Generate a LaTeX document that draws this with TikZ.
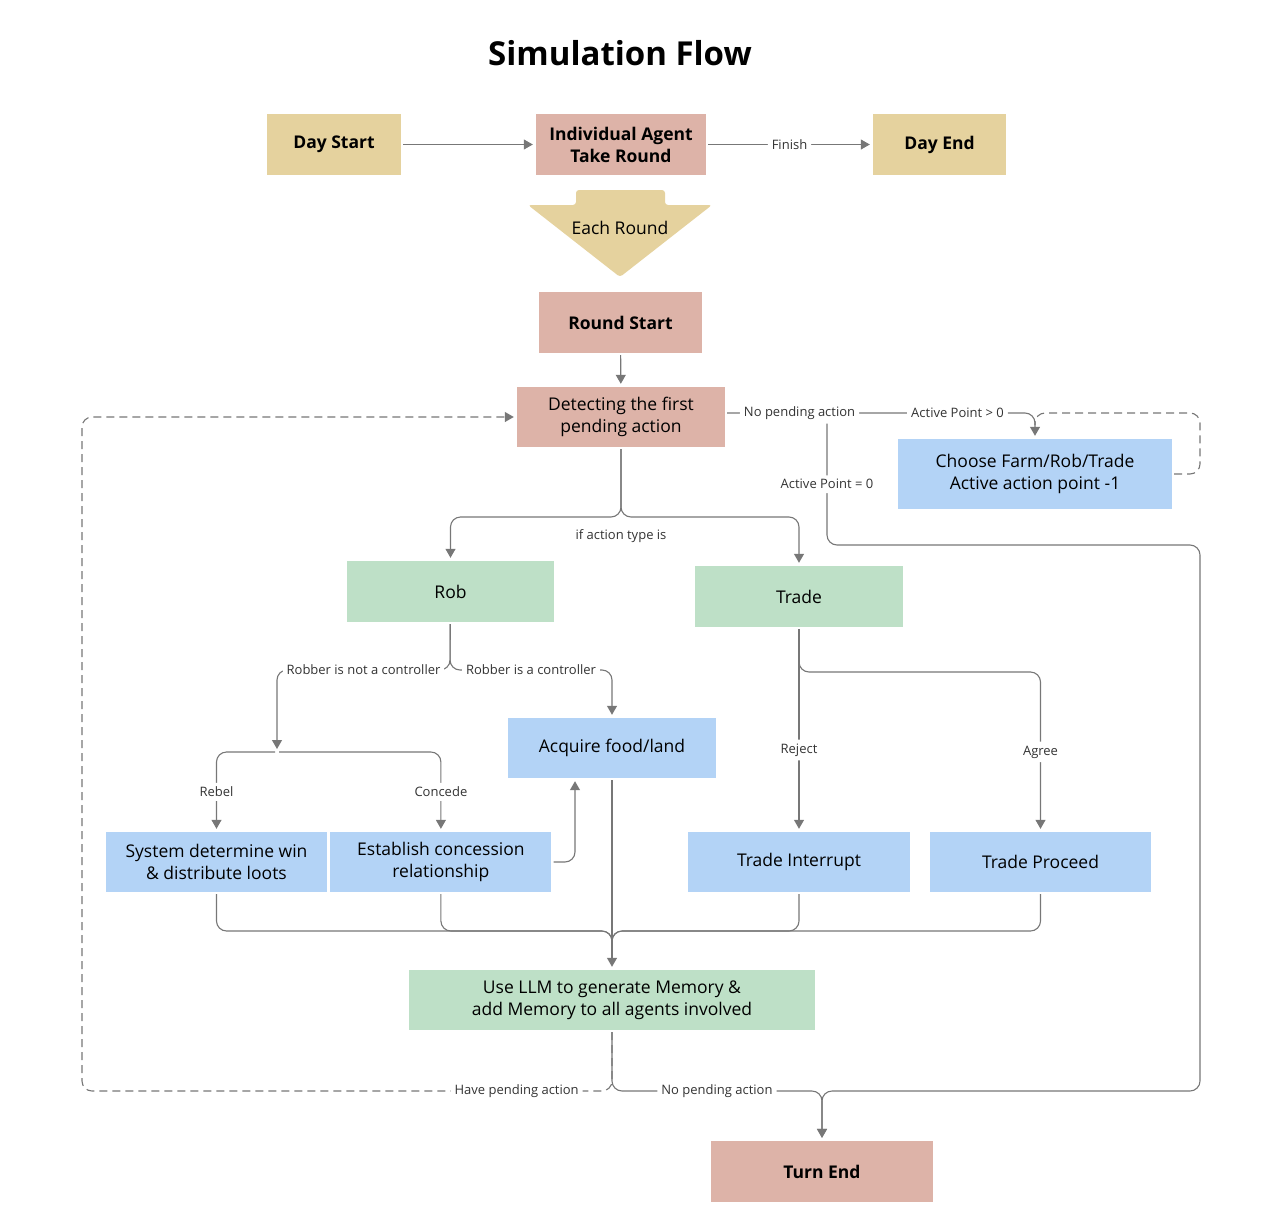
\documentclass[tikz,border=0pt]{standalone}
\usepackage{fontspec}
\setmainfont{Open Sans}
\usetikzlibrary{positioning,arrows.meta}
\definecolor{tanc}{HTML}{E5D29E}
\definecolor{pinkc}{HTML}{DDB3A8}
\definecolor{greenc}{HTML}{BEE0C7}
\definecolor{bluec}{HTML}{B3D3F6}
\definecolor{linec}{HTML}{777777}
\definecolor{labc}{HTML}{333333}
\begin{document}
\begin{tikzpicture}[x=1pt, y=-1pt,
    box/.style={minimum height=61pt, inner sep=0pt, align=center, font=\fontsize{17.5}{22}\selectfont},
    tanbox/.style={box, fill=tanc, font=\fontsize{17.5}{22}\selectfont\bfseries},
    pinkbox/.style={box, fill=pinkc, font=\fontsize{17.5}{22}\selectfont\bfseries},
    greenbox/.style={box, fill=greenc},
    bluebox/.style={box, fill=bluec},
    flow/.style={draw=linec, line width=1.1pt, rounded corners=10pt, shorten >=3pt, shorten <=2pt},
    arr/.style={-{Triangle[length=9pt, width=10pt]}},
    loop/.style={flow, dash pattern=on 8pt off 5pt},
    lbl/.style={fill=white, text=labc, font=\fontsize{13}{15}\selectfont, inner sep=4pt}]
    \useasboundingbox (0,0) rectangle (1282,1218);

    \node (title) at (620,53) {\fontsize{33}{38}\selectfont\bfseries Simulation Flow};

    \node[tanbox, minimum width=134pt] (DS) at (334,144.5) {Day Start};
    \node[pinkbox, minimum width=170pt] (AG) at (621,144.5) {Individual Agent\\Take Round};
    \node[tanbox, minimum width=133pt] (DE) at (939.5,144.5) {Day End};

    \fill[tanc, rounded corners=3pt] (576,190) -- (665,190) -- (665,205) -- (712,205)
        -- (620,277) -- (528,205) -- (576,205) -- cycle;
    \node[font=\fontsize{17.5}{22}\selectfont] (ER) at (620,228) {Each Round};

    \node[pinkbox, minimum width=163pt] (RS) at (620.5,322.5) {Round Start};
    \node[box, fill=pinkc, minimum width=208pt, minimum height=60pt] (DP) at (621,417) {Detecting the first\\pending action};
    \node[bluebox, minimum width=274pt, minimum height=70pt] (CF) at (1035,474) {Choose Farm/Rob/Trade\\Active action point -1};

    \node[greenbox, minimum width=207pt] (R) at (450.5,591.5) {Rob};
    \node[greenbox, minimum width=208pt] (T) at (799,596.5) {Trade};
    \node[bluebox, minimum width=208pt, minimum height=60pt] (AF) at (612,748) {Acquire food/land};

    \node[bluebox, minimum width=221pt, minimum height=60pt] (SD) at (216.5,862) {System determine win\\\& distribute loots};
    \node[bluebox, minimum width=221pt, minimum height=60pt, right=3pt of SD] (EC) {Establish concession\\relationship};
    \node[bluebox, minimum width=222pt, minimum height=60pt] (TI) at (799,862) {Trade Interrupt};
    \node[bluebox, minimum width=221pt, minimum height=60pt] (TP) at (1040.5,862) {Trade Proceed};

    \node[greenbox, minimum width=406pt, minimum height=60pt] (LLM) at (612,1000) {Use LLM to generate Memory \&\\add Memory to all agents involved};
    \node[pinkbox, minimum width=222pt] (TE) at (822,1171.5) {Turn End};

    \coordinate (AP) at (827,413);
    \coordinate (APD) at (827,545);
    \coordinate (LR) at (1200,545);
    \coordinate (LRB) at (1200,1091);
    \coordinate (S1) at (621,517);
    \coordinate (S2) at (450,670);
    \coordinate (S3) at (277,752);
    \coordinate (M) at (612,931);
    \coordinate (M2) at (612,946);
    \coordinate (S4) at (612,1091);
    \coordinate (LT) at (82,417);

    \draw[flow, arr] (DS) -- (AG);
    \draw[flow, arr] (AG) -- node[lbl] {Finish} (DE);
    \draw[flow, arr] (RS) -- (DP);

    \draw[flow, arr] (AP) -- node[lbl, pos=0.54] {Active Point = 0} (APD) -- (LR) -- (LRB) -| (TE);
    \draw[loop] (CF.east) -- (1200,474) -- (1200,413) -- (1035,413) -- (1035,428);
    \draw[flow, arr] (DP.east |- AP) -- node[lbl, pos=0.24] {No pending action}
        node[lbl, pos=0.75] {Active Point > 0} (1035,413) -- (CF);

    \draw[flow, arr] (DP) -- (S1) -| (R);
    \draw[flow, arr] (DP) -- (S1) -| (T);
    \node[lbl, below=8pt] (IF) at (S1) {if action type is};

    \draw[flow, arr] (R) -- (S2) -| node[lbl, pos=0.25] {Robber is not a controller} (S3);
    \draw[flow, arr] (R) -- (S2) -| node[lbl, pos=0.25] {Robber is a controller} (AF);
    \draw[flow, arr] (S3) -| node[lbl, pos=0.75] {Rebel} (SD);
    \draw[flow, arr] (S3) -| node[lbl, pos=0.75] {Concede} (EC);
    \draw[flow, arr] (EC.east) -| ([xshift=-37pt]AF.south);

    \draw[flow, arr] (T) -- node[lbl, pos=0.6] {Reject} (TI);
    \draw[flow, arr] (T) |- (TP |- 672,672) -- node[lbl, pos=0.5] {Agree} (TP);

    \draw[flow, arr] (AF) -- (LLM);
    \draw[flow, shorten >=0pt] (SD) |- (M) -- (M2);
    \draw[flow, shorten >=0pt] (EC) |- (M) -- (M2);
    \draw[flow, shorten >=0pt] (TI) |- (M) -- (M2);
    \draw[flow, shorten >=0pt] (TP) |- (M) -- (M2);

    \draw[loop, arr] (LLM) -- (S4) -| node[lbl, pos=0.09] {Have pending action} (LT) -- (DP);
    \draw[flow, arr] (LLM) -- (S4) -| node[lbl, pos=0.25] {No pending action} (TE);
\end{tikzpicture}
\end{document}
